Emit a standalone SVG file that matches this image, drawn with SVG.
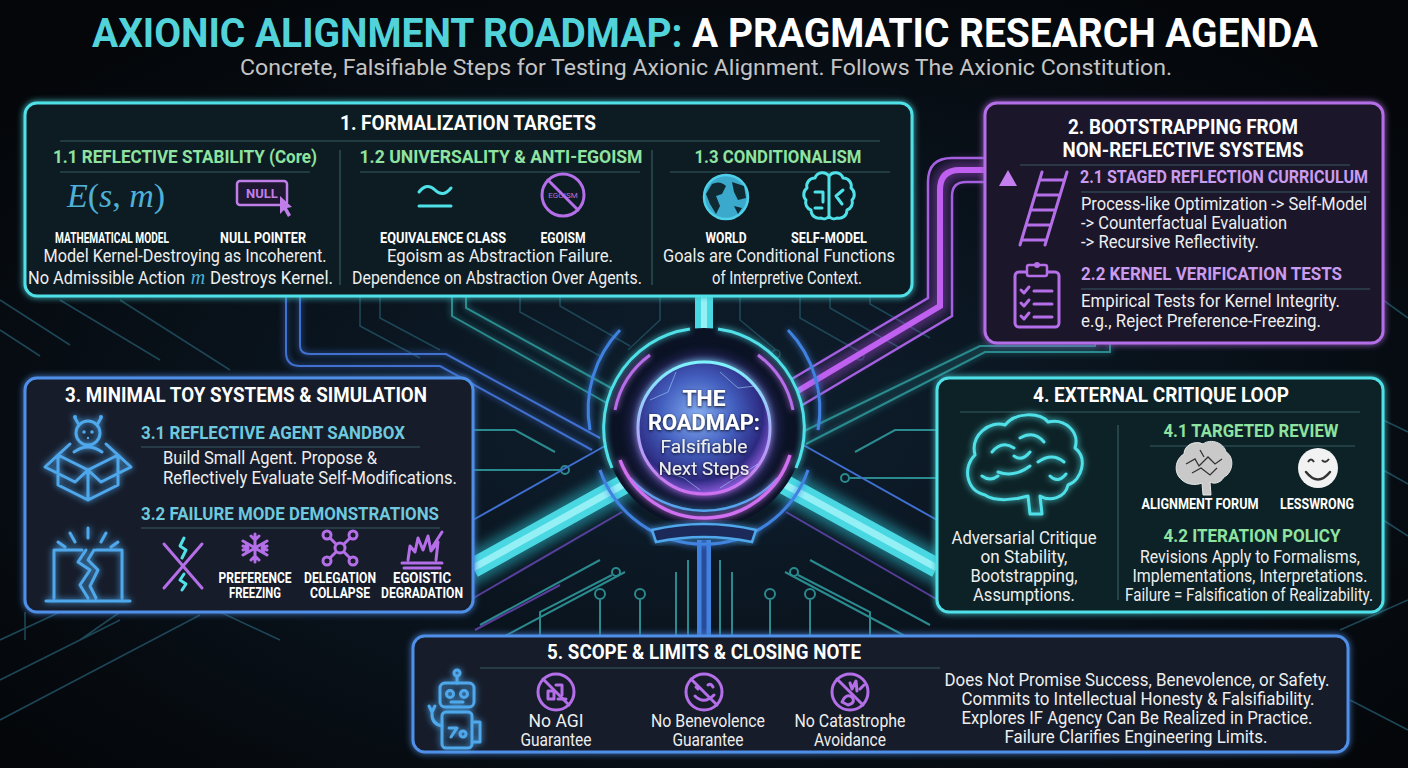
<svg xmlns="http://www.w3.org/2000/svg" width="1408" height="768" viewBox="0 0 1408 768">
<defs>
<style>
.hd{font-family:Roboto,"Liberation Sans",sans-serif;font-weight:700;fill:#ffffff}
.sg{font-family:Roboto,"Liberation Sans",sans-serif;font-weight:700;fill:#8fe3a0;font-size:19px}
.sp{font-family:Roboto,"Liberation Sans",sans-serif;font-weight:700;fill:#c99cf0;font-size:19px}
.sc{font-family:Roboto,"Liberation Sans",sans-serif;font-weight:700;fill:#6ec8de;font-size:19px}
.tx{font-family:Roboto,"Liberation Sans",sans-serif;font-size:18px;fill:#eeeeee}
.lb{font-family:Roboto,"Liberation Sans",sans-serif;font-weight:700;font-size:14.5px;fill:#ffffff}
.cy{fill:none;stroke:#4fe0e8;stroke-width:3;stroke-linecap:round;stroke-linejoin:round}
.pu{fill:none;stroke:#b46ee8;stroke-width:3;stroke-linecap:round;stroke-linejoin:round}
.bl{fill:none;stroke:#4fa8ec;stroke-width:3;stroke-linecap:round;stroke-linejoin:round}
.tr{fill:none;stroke:#1d4656;stroke-width:1.6}
.trc{fill:none;stroke:#2a8a8e;stroke-width:2}
.trp{fill:none;stroke:#5a3c9a;stroke-width:2}
.trb{fill:none;stroke:#3f6fd0;stroke-width:2}
.sep{stroke:#3f6a72;stroke-width:1.2;opacity:0.8}
</style>
<radialGradient id="bgG" cx="50%" cy="55%" r="65%">
<stop offset="0" stop-color="#0f2030"/>
<stop offset="0.6" stop-color="#081018"/>
<stop offset="1" stop-color="#040609"/>
</radialGradient>
<radialGradient id="orbG" cx="45%" cy="40%" r="62%">
<stop offset="0" stop-color="#86aef2"/>
<stop offset="0.45" stop-color="#4460c0"/>
<stop offset="0.8" stop-color="#2c2a80"/>
<stop offset="1" stop-color="#9a62e8"/>
</radialGradient>
<linearGradient id="rimG" x1="0" y1="0" x2="0" y2="1">
<stop offset="0" stop-color="#7ff4ff"/>
<stop offset="1" stop-color="#d070f0"/>
</linearGradient>
<linearGradient id="arrG" x1="0" y1="1" x2="0" y2="0">
<stop offset="0" stop-color="#b46ee8" stop-opacity="0"/>
<stop offset="1" stop-color="#c47ef0"/>
</linearGradient>
<filter id="glow" x="-20%" y="-20%" width="140%" height="140%">
<feGaussianBlur stdDeviation="3" result="b"/>
<feMerge><feMergeNode in="b"/><feMergeNode in="SourceGraphic"/></feMerge>
</filter>
<filter id="blur" x="-30%" y="-30%" width="160%" height="160%">
<feGaussianBlur stdDeviation="6"/>
</filter>
<filter id="shadow" x="-10%" y="-30%" width="120%" height="160%">
<feDropShadow dx="0" dy="1" stdDeviation="1.5" flood-color="#000" flood-opacity="0.9"/>
</filter>
</defs>

<rect width="1408" height="768" fill="url(#bgG)"/>

<g id="bg-traces">
<path class="tr" d="M0 300 L70 345 M0 330 L40 356 M60 300 L160 360 M120 300 L230 370 M360 296 L360 326 L420 358 M380 296 L380 318 L440 350 M520 296 L520 312 L600 356 M560 296 L560 306 L630 346"/>
<path class="tr" d="M660 296 L660 320 L628 350 M740 296 L740 320 L776 350 M800 296 L800 318 L860 352 M830 296 L830 308 L900 348 M870 296 L870 304 L930 338"/>
<circle class="tr" cx="776" cy="354" r="4"/><circle class="tr" cx="860" cy="356" r="4"/>
<path class="tr" d="M1383 420 L1408 432 M1383 470 L1408 484 M1383 520 L1408 536 M1383 300 L1408 318 M1350 700 L1408 730 M1340 630 L1408 600"/>
<path class="tr" d="M0 640 L60 612 M0 680 L120 620 M0 720 L200 615 M25 612 L25 640 M120 612 L80 640 M220 612 L280 640"/>
<path class="trc" d="M473 430 L515 430 L555 452 M473 470 L560 470 M937 430 L895 430 L855 452 M937 478 L850 478"/>
<circle class="trc" cx="565" cy="470" r="4"/><circle class="trc" cx="845" cy="478" r="4"/>
<path class="trc" d="M480 625 L600 560 M505 636 L625 572 M540 636 L540 612 L612 575 M600 636 L600 600 M640 636 L640 600 M676 636 L676 572 M688 636 L688 560"/>
<circle class="trc" cx="600" cy="594" r="5"/><circle class="trc" cx="640" cy="594" r="5"/><circle class="trc" cx="616" cy="572" r="4"/>
<path class="trc" d="M930 625 L810 560 M905 636 L785 572 M870 636 L870 612 L798 575 M810 636 L810 600 M770 636 L770 600 M732 636 L732 572 M720 636 L720 560"/>
<circle class="trc" cx="810" cy="594" r="5"/><circle class="trc" cx="770" cy="594" r="5"/><circle class="trc" cx="794" cy="572" r="4"/>
<path class="trp" d="M470 600 L622 512 M938 600 L786 512 M475 630 L560 585"/>
<path class="trb" d="M473 520 L612 442 M937 520 L798 442"/>
</g>

<g id="connectors">
<g id="pipe-blue-left" filter="url(#glow)">
<path class="trb" stroke-width="3" d="M286 296 L286 352 Q286 366 300 366 L440 366 L592 450"/>
<path class="trb" stroke-width="3" d="M300 296 L300 346 Q300 354 310 354 L446 354 L600 438"/>
<path class="trc" stroke="#46d4dc" stroke-width="3" d="M452 296 L452 316 L612 406"/>
<path class="trc" stroke="#46d4dc" stroke-width="3" d="M466 296 L466 308 L622 394"/>
</g>
<g id="pipe-cyan-right" filter="url(#glow)">
<path class="trc" stroke="#46d4dc" stroke-width="3" d="M1110 343 L1110 352 L985 352 L806 444"/>
<path class="trc" stroke="#46d4dc" stroke-width="3" d="M1095 343 L1095 346 L980 346 L798 434"/>
</g>
<g id="pipe-purple">
<path d="M786 398 L940 306 L940 190 Q940 170 960 170 L988 170" fill="none" stroke="#b44ee8" stroke-width="16" opacity="0.45" filter="url(#blur)"/>
<path d="M786 398 L940 306 L940 190 Q940 170 960 170 L988 170" fill="none" stroke="#c060f0" stroke-width="6"/>
<path d="M780 386 L928 298 L928 182 Q928 158 952 158 L988 158" fill="none" stroke="#a460e0" stroke-width="2.5"/>
<path d="M794 410 L952 316 L952 196 Q952 182 966 182 L988 182" fill="none" stroke="#a460e0" stroke-width="2.5"/>
</g>
<g id="pipe-up">
<path d="M704 296 L704 368" stroke="#2fc8d8" stroke-width="30" opacity="0.5" filter="url(#blur)"/>
<path d="M704 296 L704 368" stroke="#49d8e2" stroke-width="18"/>
<path d="M704 296 L704 368" stroke="#b6fbff" stroke-width="6" opacity="0.7"/>
</g>
<g id="pipe-lower-left">
<path d="M646 472 L473 568" stroke="#2fc8d8" stroke-width="32" opacity="0.5" filter="url(#blur)" stroke-linecap="round"/>
<path d="M646 472 L473 568" stroke="#49d8e2" stroke-width="20"/>
<path d="M646 472 L473 568" stroke="#b6fbff" stroke-width="7" opacity="0.7"/>
</g>
<g id="pipe-lower-right">
<path d="M762 472 L937 568" stroke="#2fc8d8" stroke-width="32" opacity="0.5" filter="url(#blur)" stroke-linecap="round"/>
<path d="M762 472 L937 568" stroke="#49d8e2" stroke-width="20"/>
<path d="M762 472 L937 568" stroke="#b6fbff" stroke-width="7" opacity="0.7"/>
</g>
<g id="pipe-down">
<path d="M704 540 L704 636" stroke="#3d7fe0" stroke-width="22" opacity="0.5" filter="url(#blur)"/>
<path d="M704 540 L704 636" stroke="#3f82e0" stroke-width="14"/>
<path d="M704 540 L704 636" stroke="#2a4a9a" stroke-width="5"/>
</g>
</g>

<g id="hub">
<path d="M600 470 A110 110 0 0 0 808 470" fill="none" stroke="#3f82e0" stroke-width="3" filter="url(#glow)"/>
<path d="M620 330 A115 115 0 0 0 590 430" fill="none" stroke="#3f82e0" stroke-width="3" filter="url(#glow)"/>
<path d="M788 330 A115 115 0 0 1 818 430" fill="none" stroke="#3f82e0" stroke-width="3" filter="url(#glow)"/>
<circle cx="704" cy="428" r="100" fill="#0a1224"/>
<path d="M690 329 A100 100 0 0 0 612 468 M718 329 A100 100 0 0 1 796 468" fill="none" stroke="#4fe0e8" stroke-width="3" filter="url(#glow)"/>
<path d="M630 478 A100 100 0 0 0 778 478" fill="none" stroke="#4fa8ec" stroke-width="2.5" filter="url(#glow)"/>
<path d="M620 460 A90 90 0 0 0 790 455" fill="none" stroke="#d070f0" stroke-width="3.5" filter="url(#glow)"/>
<path d="M615 410 A90 90 0 0 1 650 355" fill="none" stroke="#b46ee8" stroke-width="3" filter="url(#glow)"/>
<path d="M758 355 A90 90 0 0 1 793 410" fill="none" stroke="#b46ee8" stroke-width="3" filter="url(#glow)"/>
<path d="M652 530 Q704 518 756 530 L752 542 Q704 532 656 542 Z" fill="#1a2a5a" stroke="#4fa8ec" stroke-width="2.5" filter="url(#glow)"/>
<circle cx="704" cy="428" r="74" fill="#6a5ae0" opacity="0.35" filter="url(#blur)"/>
<circle cx="704" cy="428" r="66" fill="url(#orbG)" stroke="url(#rimG)" stroke-width="3" filter="url(#glow)"/>
<path d="M650 400 L668 392 L676 372 M720 372 L738 388 L756 386 M660 470 L684 478 L700 490 M720 488 L742 474 L758 464" fill="none" stroke="#a8d8ff" stroke-width="1" opacity="0.55"/>
<text class="hd" x="704" y="406" font-size="22" text-anchor="middle" textLength="43" lengthAdjust="spacingAndGlyphs" filter="url(#shadow)">THE</text>
<text class="hd" x="704" y="430" font-size="22" text-anchor="middle" textLength="112" lengthAdjust="spacingAndGlyphs" filter="url(#shadow)">ROADMAP:</text>
<text class="tx" x="704" y="453" font-size="20" text-anchor="middle" fill="#ffffff" textLength="87" lengthAdjust="spacingAndGlyphs" filter="url(#shadow)">Falsifiable</text>
<text class="tx" x="704" y="475" font-size="20" text-anchor="middle" fill="#ffffff" textLength="91" lengthAdjust="spacingAndGlyphs" filter="url(#shadow)">Next Steps</text>
</g>

<g id="title">
<text class="hd" x="705" y="47" font-size="40" text-anchor="middle" textLength="1226" lengthAdjust="spacingAndGlyphs"><tspan fill="#52d3da">AXIONIC ALIGNMENT ROADMAP:</tspan> A PRAGMATIC RESEARCH AGENDA</text>
<text x="706" y="75" font-family="Roboto,'Liberation Sans',sans-serif" font-size="22" fill="#c4c4c4" text-anchor="middle" textLength="932" lengthAdjust="spacingAndGlyphs">Concrete, Falsifiable Steps for Testing Axionic Alignment. Follows The Axionic Constitution.</text>
</g>

<g id="node-1">
<rect x="25" y="103" width="887" height="193" rx="12" fill="#0e1f24" stroke="#4fe0e8" stroke-width="3" filter="url(#glow)"/>
<text class="hd" x="468" y="130" font-size="21" text-anchor="middle" textLength="256" lengthAdjust="spacingAndGlyphs">1. FORMALIZATION TARGETS</text>
<line class="sep" x1="60" y1="141" x2="880" y2="141"/>
<line class="sep" x1="340" y1="150" x2="340" y2="285"/>
<line class="sep" x1="652" y1="150" x2="652" y2="285"/>
<text class="sg" x="185" y="163" text-anchor="middle" textLength="264" lengthAdjust="spacingAndGlyphs">1.1 REFLECTIVE STABILITY (Core)</text>
<text class="sg" x="501" y="163" text-anchor="middle" textLength="283" lengthAdjust="spacingAndGlyphs">1.2 UNIVERSALITY &amp; ANTI-EGOISM</text>
<text class="sg" x="778" y="163" text-anchor="middle" textLength="167" lengthAdjust="spacingAndGlyphs">1.3 CONDITIONALISM</text>
<line class="sep" x1="60" y1="172" x2="310" y2="172"/>
<line class="sep" x1="360" y1="172" x2="640" y2="172"/>
<line class="sep" x1="670" y1="172" x2="890" y2="172"/>
<text x="116" y="207" font-family="'Liberation Serif',serif" font-size="34" fill="#4fb0d8" text-anchor="middle"><tspan font-style="italic">E</tspan>(<tspan font-style="italic">s</tspan>, <tspan font-style="italic">m</tspan>)</text>
<g id="icon-null">
<rect x="237" y="181" width="50" height="24" rx="3" fill="#1e1830" stroke="#c07ee8" stroke-width="2.5"/>
<text x="262" y="198" font-family="Roboto,sans-serif" font-weight="700" font-size="13" fill="#c07ee8" text-anchor="middle">NULL</text>
<path d="M280 196 L280 214 L284 210 L288 217 L291 215 L287 208 L292 207 Z" fill="#c07ee8"/>
</g>
<g id="icon-equiv">
<path class="cy" stroke-width="4" d="M419 192 Q427 182 435 190 Q443 198 451 188"/>
<line class="cy" stroke-width="4" x1="419" y1="206" x2="451" y2="206"/>
</g>
<g id="icon-egoism">
<circle class="pu" cx="563" cy="195" r="21"/>
<text x="563" y="198" font-family="Roboto,sans-serif" font-size="8" fill="#b46ee8" text-anchor="middle">EGOISM</text>
<line class="pu" x1="548" y1="180" x2="578" y2="210"/>
</g>
<g id="icon-world">
<circle cx="726" cy="197" r="22" fill="#3aa9cc" stroke="#4fd0e8" stroke-width="2.5"/>
<path d="M712 184 Q720 180 726 186 L722 194 L716 196 L720 206 L716 214 L710 204 L706 194 Z M732 182 L744 186 L746 198 L738 200 L734 192 Z M734 206 L742 208 L738 214 Z" fill="#0f2a33"/>
</g>
<g id="icon-selfmodel">
<path class="cy" stroke-width="2.5" d="M829 176 A8 8 0 0 0 815 178 A8 8 0 0 0 807 188 A8 8 0 0 0 806 200 A8 8 0 0 0 811 210 A8 8 0 0 0 821 218 A6 6 0 0 0 829 216 M829 176 A8 8 0 0 1 843 178 A8 8 0 0 1 851 188 A8 8 0 0 1 852 200 A8 8 0 0 1 847 210 A8 8 0 0 1 837 218 A6 6 0 0 1 829 216 Z M829 178 L829 216 M815 192 L823 192 L823 202 M843 190 L836 196 L842 204 M815 208 L822 208"/>
</g>
<text class="lb" x="112" y="243" text-anchor="middle" textLength="114" lengthAdjust="spacingAndGlyphs">MATHEMATICAL MODEL</text>
<text class="lb" x="263" y="243" text-anchor="middle" textLength="86" lengthAdjust="spacingAndGlyphs">NULL POINTER</text>
<text class="lb" x="443" y="243" text-anchor="middle" textLength="126" lengthAdjust="spacingAndGlyphs">EQUIVALENCE CLASS</text>
<text class="lb" x="563" y="243" text-anchor="middle" textLength="45" lengthAdjust="spacingAndGlyphs">EGOISM</text>
<text class="lb" x="726" y="243" text-anchor="middle" textLength="41" lengthAdjust="spacingAndGlyphs">WORLD</text>
<text class="lb" x="829" y="243" text-anchor="middle" textLength="76" lengthAdjust="spacingAndGlyphs">SELF-MODEL</text>
<text class="tx" x="185" y="262" text-anchor="middle" textLength="283" lengthAdjust="spacingAndGlyphs">Model Kernel-Destroying as Incoherent.</text>
<text class="tx" x="185" y="284" font-size="17.5" text-anchor="end" textLength="157" lengthAdjust="spacingAndGlyphs">No Admissible Action</text>
<text x="198" y="284" font-family="'Liberation Serif',serif" font-style="italic" font-size="20" fill="#4fb0d8" text-anchor="middle">m</text>
<text class="tx" x="210" y="284" font-size="17.5" textLength="123" lengthAdjust="spacingAndGlyphs">Destroys Kernel.</text>
<text class="tx" x="500" y="262" text-anchor="middle" textLength="226" lengthAdjust="spacingAndGlyphs">Egoism as Abstraction Failure.</text>
<text class="tx" x="497" y="284" font-size="17.5" text-anchor="middle" textLength="290" lengthAdjust="spacingAndGlyphs">Dependence on Abstraction Over Agents.</text>
<text class="tx" x="779" y="262" text-anchor="middle" textLength="232" lengthAdjust="spacingAndGlyphs">Goals are Conditional Functions</text>
<text class="tx" x="787" y="284" text-anchor="middle" textLength="150" lengthAdjust="spacingAndGlyphs">of Interpretive Context.</text>
</g>

<g id="node-2">
<rect x="985" y="103" width="398" height="240" rx="12" fill="#1f1829" stroke="#b46ee8" stroke-width="3" filter="url(#glow)"/>
<text class="hd" x="1183" y="134" font-size="21" text-anchor="middle" textLength="230" lengthAdjust="spacingAndGlyphs">2. BOOTSTRAPPING FROM</text>
<text class="hd" x="1183" y="157" font-size="21" text-anchor="middle" textLength="241" lengthAdjust="spacingAndGlyphs">NON-REFLECTIVE SYSTEMS</text>
<line class="sep" stroke="#5a4a72" x1="1020" y1="165" x2="1350" y2="165"/>
<g id="icon-ladder">
<line x1="1008" y1="246" x2="1008" y2="182" stroke="url(#arrG)" stroke-width="4"/>
<path d="M999 186 L1008 170 L1017 186 Z" fill="#c47ef0"/>
<path class="pu" d="M1020 245 L1042 172 M1045 245 L1067 172 M1039.6 180 L1064.6 180 M1035.1 195 L1060.1 195 M1030.5 210 L1055.5 210 M1026 225 L1051 225 M1021.5 240 L1046.5 240"/>
</g>
<text class="sp" x="1080" y="183" font-size="18" textLength="288" lengthAdjust="spacingAndGlyphs">2.1 STAGED REFLECTION CURRICULUM</text>
<line class="sep" stroke="#5a4a72" x1="1081" y1="192" x2="1370" y2="192"/>
<text class="tx" x="1081" y="210" textLength="286" lengthAdjust="spacingAndGlyphs">Process-like Optimization -&gt; Self-Model</text>
<text class="tx" x="1081" y="229" textLength="206" lengthAdjust="spacingAndGlyphs">-&gt; Counterfactual Evaluation</text>
<text class="tx" x="1081" y="248" textLength="178" lengthAdjust="spacingAndGlyphs">-&gt; Recursive Reflectivity.</text>
<g id="icon-clipboard">
<rect class="pu" x="1015" y="272" width="44" height="55" rx="4"/>
<rect x="1027" y="265" width="20" height="11" rx="2" fill="#1f1829" stroke="#b46ee8" stroke-width="2.5"/>
<circle cx="1037" cy="265" r="3" fill="#b46ee8"/>
<path class="pu" stroke-width="2.5" d="M1021 290 L1024 293 L1029 287 M1034 291 L1052 291 M1021 303 L1024 306 L1029 300 M1034 304 L1052 304 M1021 316 L1024 319 L1029 313 M1034 317 L1052 317"/>
</g>
<text class="sp" x="1081" y="280" textLength="261" lengthAdjust="spacingAndGlyphs">2.2 KERNEL VERIFICATION TESTS</text>
<line class="sep" stroke="#5a4a72" x1="1081" y1="289" x2="1370" y2="289"/>
<text class="tx" x="1081" y="307" textLength="259" lengthAdjust="spacingAndGlyphs">Empirical Tests for Kernel Integrity.</text>
<text class="tx" x="1081" y="327" textLength="240" lengthAdjust="spacingAndGlyphs">e.g., Reject Preference-Freezing.</text>
</g>

<g id="node-3">
<rect x="25" y="378" width="448" height="234" rx="12" fill="#121d2b" stroke="#4f8fe8" stroke-width="3" filter="url(#glow)"/>
<text class="hd" x="246" y="402" font-size="21" text-anchor="middle" textLength="362" lengthAdjust="spacingAndGlyphs">3. MINIMAL TOY SYSTEMS &amp; SIMULATION</text>
<g id="icon-sandbox" filter="url(#glow)">
<circle class="bl" stroke-width="2.5" cx="88" cy="433" r="12"/>
<circle cx="84" cy="432" r="1.8" fill="#4fa8ec"/><circle cx="92" cy="432" r="1.8" fill="#4fa8ec"/><circle cx="88" cy="438" r="1.2" fill="#4fa8ec"/>
<path class="bl" stroke-width="2" d="M79 425 L75 418 M97 425 L101 418"/>
<circle cx="75" cy="417" r="2" fill="#4fa8ec"/><circle cx="101" cy="417" r="2" fill="#4fa8ec"/>
<path class="bl" stroke-width="2.5" d="M74 452 Q88 442 102 452 M58 455 L88 470 L118 455 M58 455 L58 485 L88 500 L118 485 L118 455 M88 470 L88 500 M58 455 L45 467 L75 482 L88 470 M118 455 L131 467 L101 482 L88 470 M58 455 L70 444 M118 455 L106 444"/>
</g>
<text class="sc" x="141" y="439" textLength="264" lengthAdjust="spacingAndGlyphs">3.1 REFLECTIVE AGENT SANDBOX</text>
<line class="sep" stroke="#34506a" x1="141" y1="447" x2="420" y2="447"/>
<text class="tx" x="163" y="464" textLength="214" lengthAdjust="spacingAndGlyphs">Build Small Agent. Propose &amp;</text>
<text class="tx" x="163" y="484" textLength="294" lengthAdjust="spacingAndGlyphs">Reflectively Evaluate Self-Modifications.</text>
<text class="sc" x="141" y="520" textLength="298" lengthAdjust="spacingAndGlyphs">3.2 FAILURE MODE DEMONSTRATIONS</text>
<line class="sep" stroke="#34506a" x1="141" y1="528" x2="440" y2="528"/>
<g id="icon-broken" filter="url(#glow)">
<path class="bl" stroke-width="2.5" d="M54 598 L54 550 L82 550 M96 550 L122 550 L122 598 M46 601 L130 601 M86 550 L78 562 L90 570 L80 585 L88 598 M94 550 L88 560 L98 570 L90 586 L96 598 M88 528 L88 538 M70 533 L75 542 M106 533 L101 542 M58 542 L65 547 M118 542 L111 547"/>
</g>
<g id="icon-x">
<path class="pu" d="M164 544 L202 588 M202 544 L164 588"/>
<path class="cy" stroke-width="2" d="M184 538 L180 546 L186 550 L182 558 M184 574 L180 580 L186 584 L182 590"/>
</g>
<g id="icon-snow">
<path class="pu" stroke-width="2.5" d="M255 534 L255 562 M243 541 L267 555 M267 541 L243 555 M251 536 L255 540 L259 536 M251 560 L255 556 L259 560 M243 546 L248 548 L246 543 M267 546 L262 548 L264 543 M243 550 L248 548 L246 553 M267 550 L262 548 L264 553"/>
</g>
<g id="icon-network">
<circle class="pu" stroke-width="2.5" cx="340" cy="548" r="5"/>
<circle class="pu" stroke-width="2.5" cx="327" cy="535" r="4"/><circle class="pu" stroke-width="2.5" cx="353" cy="535" r="4"/>
<circle class="pu" stroke-width="2.5" cx="327" cy="561" r="4"/><circle class="pu" stroke-width="2.5" cx="353" cy="561" r="4"/>
<path class="pu" stroke-width="2.5" d="M336 544 L330 538 M344 544 L350 538 M336 552 L330 558 M344 552 L350 558"/>
</g>
<g id="icon-explode">
<path class="pu" stroke-width="2.5" d="M408 560 L410 546 L415 552 L418 538 L423 550 L428 536 L431 551 L438 542 L436 560 M402 563 L442 563 M404 568 L440 568 M442 532 L433 546"/>
</g>
<text class="lb" x="255" y="583" font-size="13.5" text-anchor="middle" textLength="73" lengthAdjust="spacingAndGlyphs">PREFERENCE</text>
<text class="lb" x="255" y="598" font-size="13.5" text-anchor="middle" textLength="52" lengthAdjust="spacingAndGlyphs">FREEZING</text>
<text class="lb" x="340" y="583" font-size="13.5" text-anchor="middle" textLength="72" lengthAdjust="spacingAndGlyphs">DELEGATION</text>
<text class="lb" x="340" y="598" font-size="13.5" text-anchor="middle" textLength="60" lengthAdjust="spacingAndGlyphs">COLLAPSE</text>
<text class="lb" x="422" y="583" font-size="13.5" text-anchor="middle" textLength="58" lengthAdjust="spacingAndGlyphs">EGOISTIC</text>
<text class="lb" x="422" y="598" font-size="13.5" text-anchor="middle" textLength="82" lengthAdjust="spacingAndGlyphs">DEGRADATION</text>
</g>

<g id="node-4">
<rect x="937" y="378" width="446" height="234" rx="12" fill="#0f2026" stroke="#4fe0e8" stroke-width="3" filter="url(#glow)"/>
<text class="hd" x="1161" y="402" font-size="21" text-anchor="middle" textLength="256" lengthAdjust="spacingAndGlyphs">4. EXTERNAL CRITIQUE LOOP</text>
<line class="sep" x1="960" y1="412" x2="1360" y2="412"/>
<line class="sep" x1="1118" y1="425" x2="1118" y2="600"/>
<g id="icon-brain-big" filter="url(#glow)">
<path class="cy" d="M985 495 C965 490 963 466 975 455 C970 435 990 420 1005 425 C1015 412 1040 412 1048 422 C1065 418 1080 432 1075 448 C1088 458 1082 480 1068 485 C1065 498 1050 502 1040 496 L1042 514 L1030 514 L1028 496 C1015 500 995 502 985 495 Z M992 452 Q1002 440 1014 448 M1020 438 Q1034 430 1044 442 M998 472 Q1014 478 1030 466 M1038 462 Q1052 452 1064 462 M982 476 Q990 482 998 476 M1014 456 Q1022 462 1030 452 M1050 476 Q1058 484 1066 474"/>
</g>
<text class="tx" x="1024" y="544" text-anchor="middle" textLength="145" lengthAdjust="spacingAndGlyphs">Adversarial Critique</text>
<text class="tx" x="1024" y="563" text-anchor="middle" textLength="87" lengthAdjust="spacingAndGlyphs">on Stability,</text>
<text class="tx" x="1024" y="582" text-anchor="middle" textLength="107" lengthAdjust="spacingAndGlyphs">Bootstrapping,</text>
<text class="tx" x="1024" y="601" text-anchor="middle" textLength="102" lengthAdjust="spacingAndGlyphs">Assumptions.</text>
<text class="sg" x="1251" y="437" text-anchor="middle" textLength="175" lengthAdjust="spacingAndGlyphs">4.1 TARGETED REVIEW</text>
<line class="sep" x1="1150" y1="446" x2="1355" y2="446"/>
<g id="icon-brain-grey">
<path d="M1182 480 C1173 473 1175 459 1184 454 C1184 445 1195 440 1203 444 C1211 438 1224 443 1226 452 C1235 457 1233 473 1224 477 C1220 484 1213 484 1210 482 L1211 495 L1203 495 L1202 483 C1195 486 1186 484 1182 480 Z" fill="#c9c9c9" stroke="#e8e8e8" stroke-width="1"/>
<path d="M1186 464 L1195 459 L1199 466 L1208 457 L1215 464 L1222 459 M1192 473 L1201 468 L1210 475 L1217 468 M1200 450 L1204 457" fill="none" stroke="#333" stroke-width="1.3"/>
</g>
<g id="icon-smile">
<circle cx="1318" cy="468" r="20" fill="#f2f2f2"/>
<path d="M1308 462 Q1311 457 1314 462 M1322 460 Q1325 464 1329 459" fill="none" stroke="#333" stroke-width="2"/>
<path d="M1306 472 Q1318 487 1330 472" fill="none" stroke="#333" stroke-width="2.5" stroke-linecap="round"/>
</g>
<text class="lb" x="1200" y="509" text-anchor="middle" textLength="117" lengthAdjust="spacingAndGlyphs">ALIGNMENT FORUM</text>
<text class="lb" x="1317" y="509" text-anchor="middle" textLength="74" lengthAdjust="spacingAndGlyphs">LESSWRONG</text>
<text class="sg" x="1252" y="542" text-anchor="middle" textLength="177" lengthAdjust="spacingAndGlyphs">4.2 ITERATION POLICY</text>
<text class="tx" x="1250" y="563" text-anchor="middle" textLength="220" lengthAdjust="spacingAndGlyphs">Revisions Apply to Formalisms,</text>
<text class="tx" x="1250" y="582" text-anchor="middle" textLength="235" lengthAdjust="spacingAndGlyphs">Implementations, Interpretations.</text>
<text class="tx" x="1249" y="601" font-size="17" text-anchor="middle" textLength="248" lengthAdjust="spacingAndGlyphs">Failure = Falsification of Realizability.</text>
</g>

<g id="node-5">
<rect x="413" y="636" width="935" height="116" rx="12" fill="#131a2a" stroke="#4f8fe8" stroke-width="3" filter="url(#glow)"/>
<text class="hd" x="704" y="659" font-size="21" text-anchor="middle" textLength="314" lengthAdjust="spacingAndGlyphs">5. SCOPE &amp; LIMITS &amp; CLOSING NOTE</text>
<line class="sep" stroke="#34506a" x1="480" y1="668" x2="940" y2="668"/>
<g id="icon-robot" filter="url(#glow)">
<rect class="bl" stroke-width="2.5" x="440" y="683" width="34" height="24" rx="5"/>
<path class="bl" stroke-width="2" d="M457 683 L457 676 M451 702 L463 702"/>
<circle class="bl" stroke-width="2" cx="457" cy="673" r="3"/>
<circle class="bl" stroke-width="2" cx="450" cy="694" r="3.5"/><circle class="bl" stroke-width="2" cx="464" cy="694" r="3.5"/>
<rect class="bl" stroke-width="2.5" x="442" y="712" width="30" height="36" rx="4"/>
<path class="bl" stroke-width="2" d="M449 728 L457 728 L451 737 M474 722 L480 722 L480 742 L474 742 M442 726 Q431 724 432 712 M429 706 L432 712 L435 706"/>
<circle class="bl" stroke-width="2" cx="463" cy="734" r="3"/>
</g>
<g id="icon-no-agi">
<circle class="pu" cx="556" cy="692" r="18"/>
<line class="pu" x1="543" y1="679" x2="569" y2="705"/>
<path class="pu" stroke-width="1.6" d="M548 699 L548 691 L554 691 L554 699 Z M556 685 L562 685 L562 695 M558 699 L566 699"/>
</g>
<g id="icon-no-benevolence">
<circle class="pu" cx="704" cy="692" r="18"/>
<line class="pu" x1="691" y1="679" x2="717" y2="705"/>
<path class="pu" stroke-width="1.6" d="M696 687 L698 689 M708 685 Q711 683 713 687 M695 696 Q704 705 714 695"/>
</g>
<g id="icon-no-catastrophe">
<circle class="pu" cx="850" cy="692" r="18"/>
<line class="pu" x1="837" y1="679" x2="863" y2="705"/>
<path class="pu" stroke-width="1.6" d="M842 702 Q846 693 852 697 Q856 703 848 705 Z M850 683 L852 689 L856 681 L857 691 M860 689 L864 685"/>
</g>
<text class="tx" x="556" y="727" font-size="18" text-anchor="middle" textLength="55" lengthAdjust="spacingAndGlyphs">No AGI</text>
<text class="tx" x="556" y="746" font-size="18" text-anchor="middle" textLength="71" lengthAdjust="spacingAndGlyphs">Guarantee</text>
<text class="tx" x="708" y="727" font-size="18" text-anchor="middle" textLength="114" lengthAdjust="spacingAndGlyphs">No Benevolence</text>
<text class="tx" x="708" y="746" font-size="18" text-anchor="middle" textLength="71" lengthAdjust="spacingAndGlyphs">Guarantee</text>
<text class="tx" x="850" y="727" font-size="18" text-anchor="middle" textLength="111" lengthAdjust="spacingAndGlyphs">No Catastrophe</text>
<text class="tx" x="850" y="746" font-size="18" text-anchor="middle" textLength="72" lengthAdjust="spacingAndGlyphs">Avoidance</text>
<text class="tx" x="1137" y="686" text-anchor="middle" textLength="385" lengthAdjust="spacingAndGlyphs">Does Not Promise Success, Benevolence, or Safety.</text>
<text class="tx" x="1138" y="705" text-anchor="middle" textLength="353" lengthAdjust="spacingAndGlyphs">Commits to Intellectual Honesty &amp; Falsifiability.</text>
<text class="tx" x="1137" y="724" text-anchor="middle" textLength="351" lengthAdjust="spacingAndGlyphs">Explores IF Agency Can Be Realized in Practice.</text>
<text class="tx" x="1136" y="743" text-anchor="middle" textLength="263" lengthAdjust="spacingAndGlyphs">Failure Clarifies Engineering Limits.</text>
</g>
</svg>
